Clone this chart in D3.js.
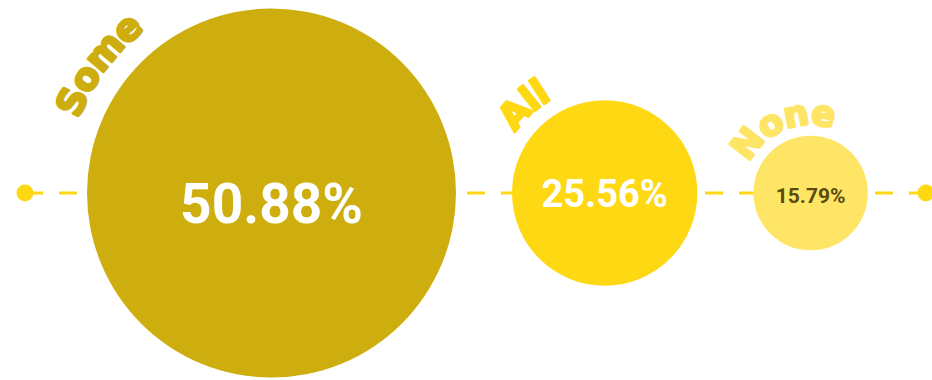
<!DOCTYPE html>
<html><head><meta charset="utf-8">
<script src="https://cdn.jsdelivr.net/npm/d3@7"></script>
<style>html,body{margin:0;padding:0;background:#fff;}svg{display:block;}</style>
</head><body>
<svg id="chart" width="932" height="380"></svg>
<script>
const categories = ["Some", "All", "None"];
const values = [50.88, 25.56, 15.79];
const valueLabels = ["50.88%", "25.56%", "15.79%"];
const colors = ["#CDAE0E", "#FFD814", "#FFE566"];
const textColors = ["#ffffff", "#ffffff", "#5a4b0e"];

const W = 932, H = 380, cy = 193;
const svg = d3.select("#chart");
const r = d3.scaleLinear().domain([0, d3.max(values)]).range([0, 184.5]);
const gap = 56, x0 = 87;
let cx = [], acc = x0;
values.forEach((v, i) => { cx.push(acc + r(v)); acc += 2 * r(v) + gap; });

// dashed line + end dots
const lineColor = "#FFD814";
svg.append("line").attr("x1", 25).attr("x2", 926).attr("y1", cy).attr("y2", cy)
  .attr("stroke", lineColor).attr("stroke-width", 3).attr("stroke-dasharray", "18,16");
svg.selectAll("circle.end").data([25, 926]).join("circle").attr("class", "end")
  .attr("cx", d => d).attr("cy", cy).attr("r", 8.5).attr("fill", lineColor);

const g = svg.selectAll("g.bubble").data(values).join("g").attr("class", "bubble");
g.append("circle").attr("cx", (d, i) => cx[i]).attr("cy", cy).attr("r", d => r(d))
  .attr("fill", (d, i) => colors[i]);

const pctSize = [55, 38, 21];
const pctDy = [30, 14, 10];
g.append("text").attr("x", (d, i) => cx[i]).attr("y", (d, i) => cy + pctDy[i])
  .attr("text-anchor", "middle").attr("font-family", "Roboto").attr("font-weight", 700)
  .attr("font-size", (d, i) => pctSize[i]).attr("fill", (d, i) => textColors[i])
  .text((d, i) => valueLabels[i]);

// curved labels
const labelSize = [37, 36, 35];
const labelGap = [22, 15, 11];
const labelStart = [-69, -56, -64];
const defs = svg.append("defs");
values.forEach((v, i) => {
  const R = r(v) + labelGap[i];
  const a0 = labelStart[i] * Math.PI / 180;
  const a1 = a0 + Math.PI * 1.2;
  const p = d3.path();
  p.arc(cx[i], cy, R, a0 - Math.PI / 2, a1 - Math.PI / 2, false);
  defs.append("path").attr("id", "arc" + i).attr("d", p.toString());
  svg.append("text").attr("font-family", "DejaVu Sans").attr("font-weight", 700)
    .attr("font-size", labelSize[i]).attr("fill", colors[i])
    .attr("stroke", colors[i]).attr("stroke-width", 2.6).attr("stroke-linejoin", "round")
    .attr("letter-spacing", -1)
    .append("textPath").attr("href", "#arc" + i).text(categories[i]);
});
</script>
</body></html>
